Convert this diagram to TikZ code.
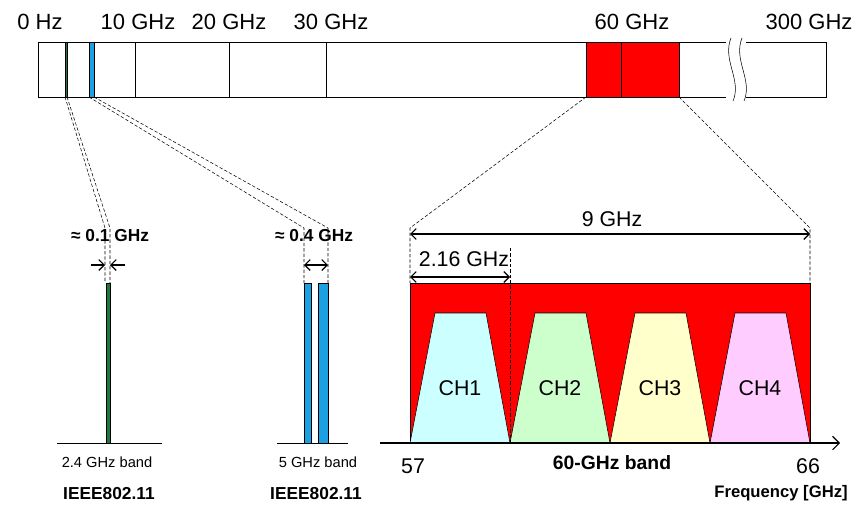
\documentclass[tikz,border=0pt]{standalone}
\usepackage{fontspec}
\setmainfont{Liberation Sans}
\usetikzlibrary{arrows.meta}
\definecolor{gbar}{HTML}{1E7A3C}
\definecolor{bbar}{HTML}{1BA1E2}
\definecolor{cha}{HTML}{CCFFFF}
\definecolor{chb}{HTML}{CCFFCC}
\definecolor{chc}{HTML}{FFFFCC}
\definecolor{chd}{HTML}{FFCCFF}
\tikzset{
 big/.style={font=\fontsize{16.5}{18}\selectfont, inner sep=0pt},
 large/.style={font=\fontsize{16}{18}\selectfont, inner sep=0pt},
 small/.style={font=\fontsize{11}{12}\selectfont, inner sep=0pt},
 mid/.style={font=\fontsize{13}{14}\selectfont\bfseries, inner sep=0pt},
 dsh/.style={dashed, thin, dash pattern=on 2.5pt off 1.5pt},
 dim/.style={{Straight Barb[length=4pt]}-{Straight Barb[length=4pt]}, line width=0.9pt},
}
\begin{document}
\begin{tikzpicture}[x=0.75pt,y=-0.75pt]
\useasboundingbox (0,0) rectangle (852,507);
% top bar
\draw[thin] (38,42) rectangle (826,97);
\fill[white] (726,40) rectangle (746,99);
\draw[thin] (731,38) .. controls (722,60) and (742,80) .. (733,101);
\draw[thin] (742,38) .. controls (733,60) and (753,80) .. (744,101);
\foreach \x in {135,229,326} \draw[thin] (\x,42) -- (\x,97);
\draw[fill=gbar, thin] (65,42) rectangle (67,97);
\draw[fill=bbar, thin] (89,42) rectangle (94,97);
\draw[fill=red, thin] (586,42) rectangle (679,97);
\draw[thin] (621,42) -- (621,97);
\node[big] at (40,22) {0 Hz};
\node[big] at (138,22) {10 GHz};
\node[big] at (229,22) {20 GHz};
\node[big] at (331,22) {30 GHz};
\node[big] at (632,22) {60 GHz};
\node[big] at (809,22) {300 GHz};
% 2.4 GHz
\draw[dsh] (65,97) -- (105,228) -- (105,283);
\draw[dsh] (67,97) -- (110,228) -- (110,283);
\node[mid] at (110,236) {≈ 0.1 GHz};
\draw[-{Straight Barb[length=4pt]}, line width=0.9pt] (91,265) -- (105,265);
\draw[-{Straight Barb[length=4pt]}, line width=0.9pt] (125,265) -- (110,265);
\draw[fill=gbar, thin] (106,283) rectangle (110,443);
\draw (57,443) -- (162,443);
\node[small] at (107,462) {2.4 GHz band};
\node[mid] at (109,494) {IEEE802.11};
% 5 GHz
\draw[dsh] (89,97) -- (304,228) -- (304,283);
\draw[dsh] (94,97) -- (328,228) -- (328,283);
\node[mid] at (314,236) {≈ 0.4 GHz};
\draw[dim] (304,265) -- (328,265);
\draw[fill=bbar, thin] (304,283) rectangle (311,443);
\draw[fill=bbar, thin] (318,283) rectangle (328,443);
\draw (277,443) -- (348,443);
\node[small] at (318,462) {5 GHz band};
\node[mid] at (316,494) {IEEE802.11};
% 60 GHz
\draw[dsh] (586,97) -- (410,228) -- (410,283);
\draw[dsh] (679,97) -- (810,228) -- (810,283);
\draw[fill=red, thin] (410,283) rectangle (810,443);
\draw[fill=cha] (410,443) -- (435,313) -- (486,313) -- (510,443) -- cycle;
\draw[fill=chb] (510,443) -- (535,313) -- (586,313) -- (610,443) -- cycle;
\draw[fill=chc] (610,443) -- (635,313) -- (686,313) -- (710,443) -- cycle;
\draw[fill=chd] (710,443) -- (735,313) -- (786,313) -- (810,443) -- cycle;
\draw[dsh] (410,283) -- (410,443);
\draw[dsh] (510,248) -- (510,443);
\node[large] at (460,388) {CH1};
\node[large] at (560,388) {CH2};
\node[large] at (660,388) {CH3};
\node[large] at (760,388) {CH4};
\node[large] at (612,219) {9 GHz};
\draw[dim] (410,234) -- (810,234);
\node[large] at (464,259) {2.16 GHz};
\draw[dim] (410,277) -- (510,277);
\draw[-{Straight Barb[length=5pt]}, line width=0.8pt] (380,443) -- (840,443);
\node[large] at (413,466) {57};
\node[large] at (808,466) {66};
\node[mid, font=\fontsize{14.5}{16}\selectfont\bfseries] at (612,463) {60-GHz band};
\node[mid, font=\fontsize{12.5}{14}\selectfont\bfseries] at (781,493) {Frequency [GHz]};
\end{tikzpicture}
\end{document}
